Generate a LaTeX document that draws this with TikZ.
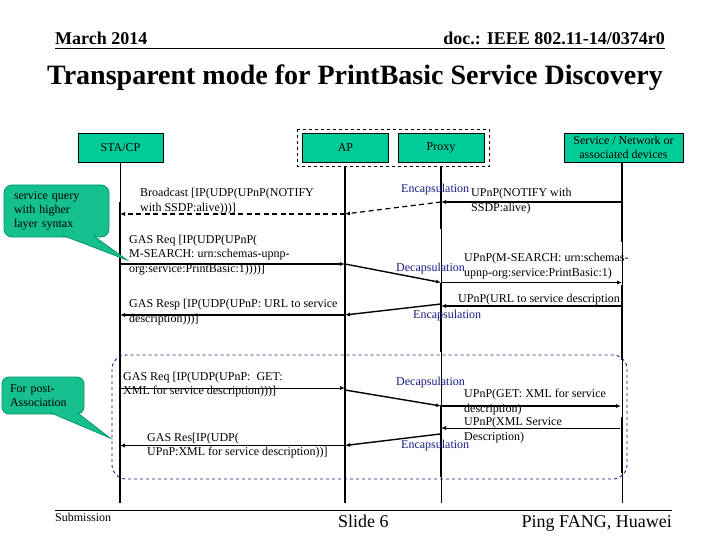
\documentclass[tikz,border=0pt]{standalone}
\usepackage{fontspec}
\setmainfont{Liberation Serif}
\usetikzlibrary{arrows.meta}
\definecolor{actorfill}{RGB}{0,204,153}
\definecolor{callfill}{RGB}{22,192,142}
\definecolor{callborder}{RGB}{0,150,105}
\definecolor{navytext}{RGB}{25,25,135}
\definecolor{navyframe}{RGB}{25,25,120}
\begin{document}
\begin{tikzpicture}[x=1pt,y=-1pt,
  actor/.style={draw=black, line width=0.8pt, fill=actorfill, minimum height=29pt, inner sep=0pt, font=\fontsize{12}{14}\selectfont, align=center},
  lbl/.style={anchor=west, align=left, inner sep=0pt, font=\fontsize{12}{14.5}\selectfont},
  enc/.style={lbl, text=navytext},
  tip/.style={-{Latex[length=5pt,width=4pt]}},
  msg/.style={tip, line width=1.4pt},
  msgthin/.style={tip, line width=0.9pt},
  life/.style={line width=0.8pt},
  lifethick/.style={line width=1.8pt},
  callbox/.style={draw=callborder, line width=0.8pt, fill=callfill, rounded corners=8pt, inner sep=0pt, align=left, font=\fontsize{12}{14}\selectfont},
  hdr/.style={inner sep=0pt, font=\fontsize{18}{20}\selectfont\bfseries},
  ftr/.style={inner sep=0pt, font=\fontsize{18}{20}\selectfont}
]
\useasboundingbox (0,0) rectangle (720,540);

% header
\node[hdr, anchor=base west] (date) at (55,45) {March 2014};
\node[hdr, anchor=base east] (doc) at (665,45) {doc.: IEEE 802.11-14/0374r0};
\coordinate (hl) at (55,48); \coordinate (hr) at (665,48);
\draw[line width=0.9pt] (hl) -- (hr);
\node[inner sep=0pt, anchor=base, font=\fontsize{28}{30}\selectfont\bfseries] (title) at (355,85) {Transparent mode for PrintBasic Service Discovery};

% actors
\draw[dashed, line width=0.8pt] (297,129) rectangle (489,166.5);
\node[actor, minimum width=85pt] (sta) at (120.5,147.5) {STA/CP};
\node[actor, minimum width=86pt] (ap) at (345.5,147.5) {AP};
\node[actor, minimum width=86pt] (proxy) at (441,147.5) {Proxy};
\node[actor, minimum width=119pt] (svc) at (623.5,147.5) {Service / Network or\\associated devices};

% lifelines
\coordinate (staT) at (120,162); \coordinate (staK) at (120,202); \coordinate (staB) at (120,503);
\coordinate (apT) at (345,166.5); \coordinate (apB) at (345,503);
\coordinate (pxT) at (441,166.5); \coordinate (pxB) at (441,503);
\coordinate (svT) at (622,162); \coordinate (svB) at (622,503);
\draw[life] (staT) -- (staB);
\draw[lifethick] (staK) -- (staB);
\draw[lifethick] (apT) -- (apB);
\draw[life] (pxT) -- (pxB);
\draw[lifethick] (pxT) -- (441,229);
\draw[lifethick] (441,283) -- (441,352);
\draw[lifethick] (441,405) -- (441,477);
\draw[life] (svT) -- (svB);
\draw[lifethick] (svT) -- (622,242);
\draw[lifethick] (622,285) -- (622,360);
\draw[lifethick] (622,417) -- (622,473);

% dashed rounded frame (post-association)
\draw[navyframe, dashed, line width=0.9pt, rounded corners=14pt] (112,355) rectangle (627,479);

% message 1: broadcast
\coordinate (m1s) at (622,202); \coordinate (m1p) at (441,202);
\coordinate (m1a) at (345,214); \coordinate (m1t) at (120,214);
\draw[msg] (m1s) -- (m1p);
\draw[tip, line width=1.2pt, dash pattern=on 5pt off 3.5pt] (m1p) -- (m1a);
\draw[tip, line width=1.1pt, dash pattern=on 5pt off 3.5pt] (m1a) -- (m1t);
\node[lbl] (t1) at (140,201) {Broadcast [IP(UDP(UPnP(NOTIFY\\with SSDP:alive)))]};
\node[lbl] (t1r) at (471,201) {UPnP(NOTIFY with\\SSDP:alive)};
\node[enc] (e1) at (401,190) {Encapsulation};

% message 2: GAS Req M-SEARCH
\coordinate (m2t) at (120,264); \coordinate (m2a) at (345,264);
\coordinate (m2p) at (441,282.5); \coordinate (m2s) at (622,282.5);
\draw[msg] (m2t) -- (m2a);
\draw[msg] (m2a) -- (m2p);
\draw[msgthin] (m2p) -- (m2s);
\node[lbl] (t2) at (129,255) {GAS Req [IP(UDP(UPnP(\\M-SEARCH: urn:schemas-upnp-\\org:service:PrintBasic:1))))]};
\node[lbl] (t2r) at (464,266) {UPnP(M-SEARCH: urn:schemas-\\upnp-org:service:PrintBasic:1)};
\node[enc] (d2) at (396,269) {Decapsulation};

% message 3: GAS Resp URL
\coordinate (m3s) at (622,306); \coordinate (m3p) at (441,306);
\coordinate (m3pp) at (441,304); \coordinate (m3a) at (345,315);
\coordinate (m3t) at (120,315);
\draw[msg] (m3s) -- (m3p);
\draw[msg] (m3pp) -- (m3a);
\draw[msg] (m3a) -- (m3t);
\node[lbl] (t3r) at (458,300) {UPnP(URL to service description};
\node[lbl] (t3) at (129,312) {GAS Resp [IP(UDP(UPnP: URL to service\\description)))]};
\node[enc] (e3) at (413,316) {Encapsulation};

% message 5: GAS Req GET
\coordinate (m5t) at (120,388); \coordinate (m5a) at (345,388);
\coordinate (m5aa) at (345,390); \coordinate (m5p) at (441,406);
\coordinate (m5s) at (621,406);
\draw[msgthin] (m5t) -- (m5a);
\draw[msg] (m5aa) -- (m5p);
\draw[msg] (m5p) -- (m5s);
\node[lbl] (t5) at (123,384.5) {GAS Req [IP(UDP(UPnP:~ GET:\\XML for service description)))]};
\node[lbl] (t5r) at (464,402) {UPnP(GET: XML for service\\description)};
\node[enc] (d5) at (396,383) {Decapsulation};

% message 6: GAS Res XML
\coordinate (m6s) at (620,428); \coordinate (m6p) at (441,428);
\coordinate (m6pp) at (440,434); \coordinate (m6a) at (345,445.5);
\coordinate (m6t) at (120,445.5);
\draw[msgthin] (m6s) -- (m6p);
\draw[msg] (m6pp) -- (m6a);
\draw[msgthin] (m6a) -- (m6t);
\node[lbl] (t6r) at (464,430) {UPnP(XML Service\\Description)};
\node[enc] (e6) at (401,446) {Encapsulation};
\node[lbl] (t6) at (147,445.5) {GAS Res[IP(UDP(\\UPnP:XML for service description))]};

% callout 1
\node[callbox, minimum width=97pt, minimum height=52pt, text width=85pt, inner xsep=10pt] (c1) at (56.5,211) {service query\\with higher\\layer syntax};
\coordinate (c1a) at (63,235.5); \coordinate (c1b) at (93,235.5); \coordinate (c1tip) at (127,260);
\fill[callfill] (c1a) -- (c1tip) -- (c1b) -- cycle;
\draw[callborder, line width=0.8pt] (c1a) -- (c1tip) -- (c1b);

% callout 2
\node[callbox, minimum width=78pt, minimum height=37pt, text width=66pt, inner xsep=8pt, rounded corners=7pt] (c2) at (43,395.5) {For post-\\Association};
\coordinate (c2a) at (50,412.5); \coordinate (c2b) at (77,412.5); \coordinate (c2tip) at (110,438);
\fill[callfill] (c2a) -- (c2tip) -- (c2b) -- cycle;
\draw[callborder, line width=0.8pt] (c2a) -- (c2tip) -- (c2b);

% footer
\coordinate (fl) at (55,510); \coordinate (fr) at (672,510);
\draw[line width=0.9pt] (fl) -- (fr);
\node[inner sep=0pt, anchor=base west, font=\fontsize{12}{14}\selectfont] (sub) at (55,521) {Submission};
\node[ftr, anchor=base west] (slide) at (338,527) {Slide 6};
\node[ftr, anchor=base east] (auth) at (672,527) {Ping FANG, Huawei};
\end{tikzpicture}
\end{document}
